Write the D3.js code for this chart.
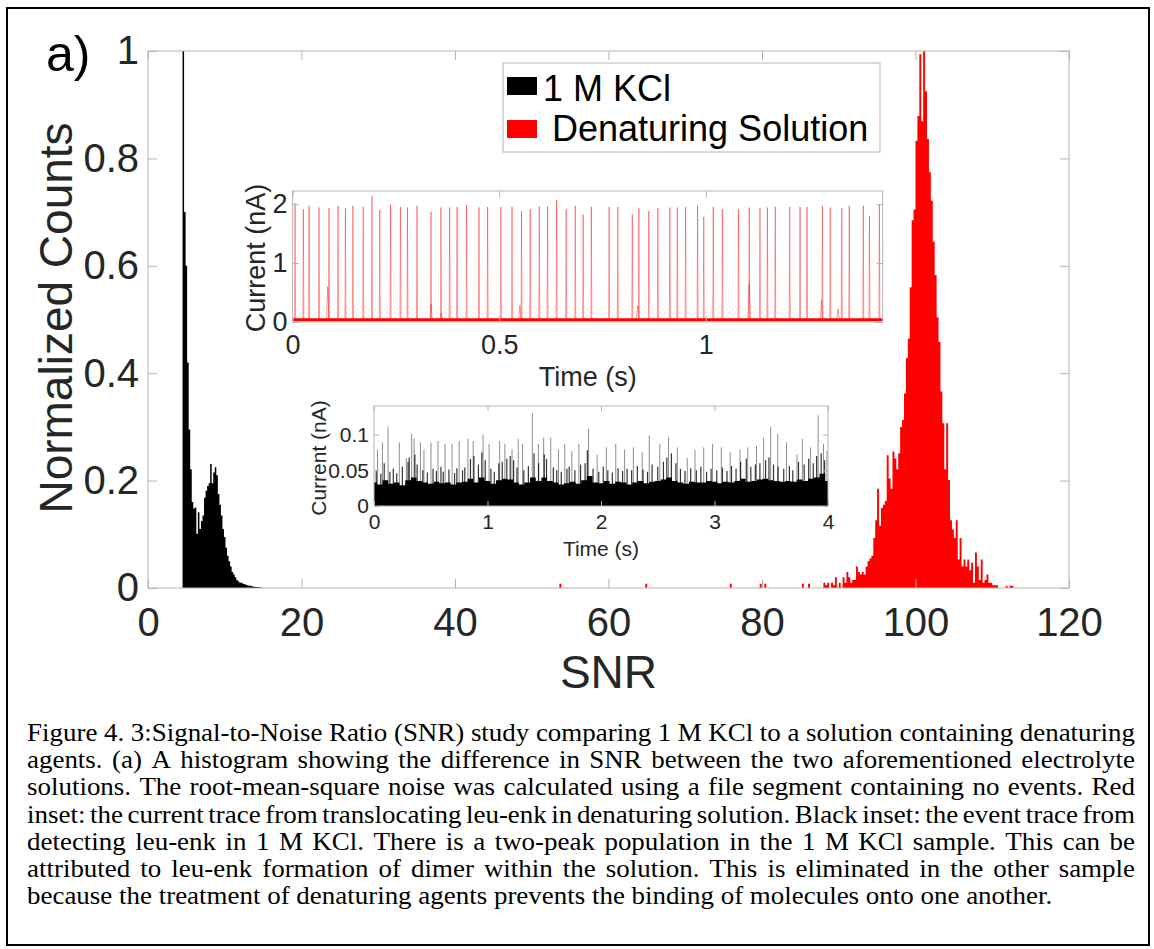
<!DOCTYPE html>
<html><head><meta charset="utf-8">
<script src="https://cdn.jsdelivr.net/npm/d3@7"></script>
<style>body{margin:0;background:#fff}svg{display:block}</style>
</head><body>
<svg id="c" width="1154" height="949"></svg>
<script>
// ---------------- DATA ----------------
const snrTicks = [0, 20, 40, 60, 80, 100, 120];
const countTicks = [0, 0.2, 0.4, 0.6, 0.8, 1];
const countTickLabels = ["0", "0.2", "0.4", "0.6", "0.8", "1"];

// 1 M KCl histogram (bins of 0.2 SNR starting at 4.5)
const kclStart = 4.5, kclWidth = 0.2;
const kclCounts = [1.0, 0.70, 0.60, 0.42, 0.295, 0.221, 0.16, 0.148, 0.15, 0.101,
  0.141, 0.11, 0.125, 0.135, 0.168, 0.181, 0.19, 0.195, 0.231, 0.195,
  0.215, 0.225, 0.21, 0.175, 0.155, 0.135, 0.11, 0.095, 0.075, 0.06,
  0.05, 0.04, 0.03, 0.025, 0.02, 0.015, 0.012, 0.01, 0.01, 0.008,
  0.007, 0.006, 0.005, 0.004, 0.004, 0.003, 0.003, 0.002, 0.002, 0.002,
  0.001, 0.001];

// Denaturing solution histogram (bins of 0.25 SNR starting at 88.0)
const denStart = 88.0, denWidth = 0.25;
const denCounts = [0.01, 0.005, 0.01, 0.0, 0.01, 0.005, 0.02, 0.0, 0.01, 0.0,
  0.02, 0.01, 0.03, 0.02, 0.01, 0.015, 0.015, 0.04, 0.03, 0.025,
  0.03, 0.025, 0.04, 0.05, 0.055, 0.06, 0.093, 0.126, 0.185, 0.116,
  0.149, 0.155, 0.162, 0.247, 0.204, 0.185, 0.254, 0.241, 0.221, 0.251,
  0.30, 0.313, 0.362, 0.428, 0.464, 0.56, 0.685, 0.705, 0.833, 0.879,
  0.994, 0.869, 1.0, 0.925, 0.836, 0.774, 0.721, 0.645, 0.583, 0.504,
  0.458, 0.366, 0.307, 0.221, 0.307, 0.201, 0.126, 0.109, 0.093, 0.126,
  0.053, 0.093, 0.04, 0.053, 0.04, 0.053, 0.033, 0.047, 0.01, 0.066,
  0.04, 0.015, 0.053, 0.01, 0.015, 0.025, 0.01, 0.01, 0.005, 0.005,
  0.005, 0, 0, 0, 0, 0.004, 0, 0.004, 0.004];
// isolated low-SNR events of the denaturing solution
const denOutlierSNR = [53.6, 64.8, 75.8, 79.7, 80.3, 85.2, 86.0];
const denOutlierCount = [0.008, 0.008, 0.008, 0.008, 0.008, 0.008, 0.008];

const legendLabels = ["1 M KCl", "Denaturing Solution"];

// Red inset: current trace in denaturing solution
const redTimeTicks = [0, 0.5, 1];
const redTimeTickLabels = ["0", "0.5", "1"];
const redCurTicks = [0, 1, 2];
const redBaseline = 0.04;
const redSpikeTime = [0.006, 0.026, 0.040, 0.064, 0.088, 0.110, 0.128, 0.146, 0.171, 0.192,
  0.211, 0.237, 0.261, 0.278, 0.301, 0.335, 0.359, 0.380, 0.398, 0.421,
  0.451, 0.472, 0.504, 0.531, 0.554, 0.575, 0.597, 0.617, 0.639, 0.662,
  0.684, 0.703, 0.723, 0.766, 0.787, 0.822, 0.838, 0.862, 0.884, 0.913,
  0.931, 0.951, 0.980, 0.995, 1.018, 1.040, 1.079, 1.105, 1.131, 1.149,
  1.168, 1.203, 1.228, 1.245, 1.282, 1.301, 1.329, 1.347, 1.381, 1.396, 1.420];
const redSpikeHeight = [2.01, 1.91, 1.97, 1.94, 1.93, 1.97, 1.93, 1.97, 1.95, 2.13,
  1.90, 1.99, 1.95, 1.94, 1.97, 1.87, 1.94, 1.94, 1.95, 1.98,
  1.94, 1.95, 1.95, 1.95, 1.88, 1.91, 1.96, 1.96, 2.07, 1.91,
  1.97, 1.82, 1.95, 1.95, 1.95, 1.82, 1.93, 1.88, 1.93, 1.94,
  1.94, 1.95, 1.97, 1.78, 1.95, 1.91, 1.91, 1.94, 1.93, 1.94,
  1.95, 1.95, 1.95, 1.95, 1.97, 1.94, 1.93, 1.97, 1.97, 1.80, 1.99];
const redBumpTime = [0.085, 0.335, 0.360, 0.550, 0.835, 1.105, 1.280, 1.320];
const redBumpHeight = [0.60, 0.30, 0.15, 0.28, 0.28, 0.65, 0.38, 0.22];

// Black inset: event trace in 1 M KCl
const blkTimeTicks = [0, 1, 2, 3, 4];
const blkCurTicks = [0, 0.05, 0.1];
const blkCurTickLabels = ["0", "0.05", "0.1"];
const blkNoiseTime = [0.00,0.05,0.10,0.15,0.20,0.25,0.30,0.35,0.40,0.45,0.50,0.55,0.60,0.65,0.70,0.75,0.80,0.85,0.90,0.95,
  1.00,1.05,1.10,1.15,1.20,1.25,1.30,1.35,1.40,1.45,1.50,1.55,1.60,1.65,1.70,1.75,1.80,1.85,1.90,1.95,
  2.00,2.05,2.10,2.15,2.20,2.25,2.30,2.35,2.40,2.45,2.50,2.55,2.60,2.65,2.70,2.75,2.80,2.85,2.90,2.95,
  3.00,3.05,3.10,3.15,3.20,3.25,3.30,3.35,3.40,3.45,3.50,3.55,3.60,3.65,3.70,3.75,3.80,3.85,3.90,3.95,4.00];
const blkNoiseTop = [0.033,0.030,0.036,0.031,0.033,0.029,0.036,0.040,0.035,0.033,0.031,0.034,0.032,0.033,0.030,0.033,0.034,0.038,0.033,0.040,
  0.035,0.031,0.036,0.038,0.037,0.033,0.030,0.033,0.040,0.035,0.040,0.035,0.033,0.030,0.032,0.034,0.031,0.036,0.042,0.033,
  0.032,0.035,0.031,0.034,0.033,0.030,0.033,0.035,0.032,0.034,0.035,0.037,0.040,0.035,0.033,0.031,0.034,0.033,0.033,0.035,
  0.034,0.032,0.034,0.033,0.035,0.038,0.034,0.035,0.037,0.038,0.036,0.035,0.034,0.035,0.034,0.037,0.035,0.038,0.040,0.045,0.035];
const blkSpikeTime = [0.031,0.074,0.124,0.223,0.285,0.332,0.353,0.409,0.440,0.502,0.564,0.626,0.688,0.750,0.828,0.874,0.961,1.014,1.107,1.153,
  1.216,1.271,1.309,1.395,1.448,1.495,1.557,1.625,1.681,1.743,1.805,1.891,1.966,2.047,2.130,2.208,2.285,2.363,2.425,2.518,
  2.595,2.673,2.760,2.828,2.905,2.983,3.060,3.138,3.225,3.293,3.370,3.433,3.495,3.557,3.634,3.727,3.774,3.845,3.913,3.960,3.991];
const blkSpikeHeight = [0.079,0.089,0.111,0.089,0.067,0.101,0.094,0.089,0.079,0.089,0.091,0.087,0.087,0.091,0.094,0.091,0.100,0.087,0.091,0.087,
  0.079,0.094,0.087,0.130,0.087,0.096,0.096,0.079,0.087,0.077,0.087,0.108,0.072,0.082,0.087,0.079,0.082,0.075,0.099,0.087,
  0.096,0.082,0.067,0.079,0.082,0.087,0.082,0.075,0.079,0.082,0.084,0.096,0.111,0.101,0.089,0.072,0.094,0.082,0.127,0.087,0.077];
const blkMidTime = [0.02,0.06,0.09,0.14,0.17,0.20,0.25,0.30,0.31,0.36,0.38,0.43,0.47,0.52,0.55,0.59,0.61,0.66,0.71,0.73,
  0.78,0.80,0.85,0.88,0.92,0.95,0.98,1.03,1.06,1.10,1.13,1.17,1.20,1.23,1.26,1.32,1.36,1.41,1.45,1.50,
  1.52,1.58,1.61,1.65,1.70,1.72,1.77,1.82,1.86,1.88,1.93,1.98,2.02,2.06,2.10,2.15,2.19,2.23,2.27,2.32,
  2.37,2.41,2.45,2.50,2.55,2.58,2.62,2.66,2.70,2.74,2.79,2.84,2.88,2.93,2.97,3.02,3.07,3.11,3.15,3.19,
  3.23,3.28,3.32,3.36,3.40,3.45,3.48,3.52,3.56,3.61,3.66,3.69,3.74,3.79,3.83,3.87,3.90,3.94,3.97];
const blkMidHeight = [0.050,0.045,0.060,0.048,0.052,0.046,0.055,0.062,0.068,0.072,0.058,0.050,0.047,0.052,0.049,0.055,0.048,0.051,0.046,0.053,
  0.050,0.054,0.066,0.070,0.058,0.075,0.064,0.052,0.048,0.060,0.062,0.066,0.070,0.064,0.054,0.050,0.056,0.074,0.060,0.072,
  0.066,0.054,0.050,0.048,0.052,0.055,0.050,0.058,0.060,0.078,0.052,0.048,0.055,0.050,0.047,0.053,0.049,0.052,0.050,0.056,
  0.051,0.048,0.058,0.055,0.062,0.068,0.074,0.060,0.052,0.049,0.053,0.050,0.055,0.048,0.052,0.050,0.054,0.049,0.056,0.052,
  0.062,0.066,0.055,0.058,0.060,0.064,0.068,0.058,0.055,0.052,0.056,0.050,0.062,0.058,0.066,0.060,0.070,0.074,0.064];

const captionLines = [
  "Figure 4. 3:Signal-to-Noise Ratio (SNR) study comparing 1 M KCl to a solution containing denaturing",
  "agents. (a) A histogram showing the difference in SNR between the two aforementioned electrolyte",
  "solutions. The root-mean-square noise was calculated using a file segment containing no events. Red",
  "inset: the current trace from translocating leu-enk in denaturing solution. Black inset: the event trace from",
  "detecting leu-enk in 1 M KCl. There is a two-peak population in the 1 M KCl sample. This can be",
  "attributed to leu-enk formation of dimer within the solution. This is eliminated in the other sample",
  "because the treatment of denaturing agents prevents the binding of molecules onto one another."
];

// ---------------- DRAWING ----------------
const SANS = "'Liberation Sans', Arial, sans-serif";
const SERIF = "'Liberation Serif', 'Times New Roman', serif";
const TXT = "#262626";
const AX = "#b4b4b4";
const svg = d3.select("#c");

svg.append("rect").attr("x", 7).attr("y", 8).attr("width", 1142).attr("height", 937)
  .attr("fill", "#fff").attr("stroke", "#000").attr("stroke-width", 2);

function frame(g, xs, ys, o) {
  const [x0, x1] = xs.range(), [y0, y1] = ys.range();
  const mk = (axis, tr, labels) => {
    const a = g.append("g").attr("transform", tr).call(axis);
    a.select(".domain").remove();
    a.selectAll("line").attr("stroke", AX);
    a.selectAll("text").attr("fill", TXT).style("font-family", SANS).style("font-size", o.fs + "px");
    if (!labels) a.selectAll("text").remove();
    return a;
  };
  mk(d3.axisBottom(xs).tickValues(o.xt).tickFormat((d, i) => o.xl[i]).tickSize(-o.tl).tickPadding(o.xp), `translate(0,${y0})`, true);
  mk(d3.axisTop(xs).tickValues(o.xt).tickSize(-o.tl), `translate(0,${y1})`, false);
  mk(d3.axisLeft(ys).tickValues(o.yt).tickFormat((d, i) => o.yl[i]).tickSize(-o.tl).tickPadding(o.yp), `translate(${x0},0)`, true);
  mk(d3.axisRight(ys).tickValues(o.yt).tickSize(-o.tl), `translate(${x1},0)`, false);
  g.append("rect").attr("x", x0).attr("y", y1).attr("width", x1 - x0).attr("height", y0 - y1)
    .attr("fill", "none").attr("stroke", AX).attr("stroke-width", 1);
}

// Main axes
const x = d3.scaleLinear().domain([0, 120]).range([148, 1069]);
const y = d3.scaleLinear().domain([0, 1]).range([588, 51]);
const main = svg.append("g");

function histPath(start, w, counts) {
  const pts = counts.map((v, i) => [start + i * w, v]);
  pts.push([start + counts.length * w, 0]);
  return d3.area().curve(d3.curveStepAfter).x(d => x(d[0])).y0(y(0)).y1(d => y(d[1]))(pts);
}
main.append("path").attr("d", histPath(kclStart, kclWidth, kclCounts)).attr("fill", "#000");
main.append("path").attr("d", histPath(denStart, denWidth, denCounts)).attr("fill", "#ff0000");
main.selectAll("rect.out").data(denOutlierSNR).join("rect").attr("class", "out")
  .attr("x", d => x(d)).attr("width", d => x(d + denWidth) - x(d))
  .attr("y", (d, i) => y(denOutlierCount[i])).attr("height", (d, i) => y(0) - y(denOutlierCount[i]))
  .attr("fill", "#ff0000");

frame(main, x, y, { xt: snrTicks, xl: snrTicks.map(String), yt: countTicks, yl: countTickLabels,
  tl: 9, fs: 40, xp: 20, yp: 9 });

main.append("text").attr("x", (x(0) + x(120)) / 2).attr("y", 688).attr("text-anchor", "middle")
  .attr("fill", TXT).style("font-family", SANS).style("font-size", "46px").text("SNR");
main.append("text").attr("transform", `translate(72,318) rotate(-90)`).attr("text-anchor", "middle")
  .attr("fill", TXT).style("font-family", SANS).style("font-size", "46px").text("Normalized Counts");
svg.append("text").attr("x", 46).attr("y", 71).attr("fill", "#000")
  .style("font-family", SANS).style("font-size", "50px").text("a)");

// Legend
const lg = svg.append("g");
lg.append("rect").attr("x", 503).attr("y", 63).attr("width", 377).attr("height", 89)
  .attr("fill", "#fff").attr("stroke", AX);
const lgColors = ["#000", "#ff0000"];
const lgSwY = [77, 120], lgTxtX = [543, 552], lgTxtY = [101, 141];
legendLabels.forEach((lab, i) => {
  lg.append("rect").attr("x", 507).attr("y", lgSwY[i]).attr("width", 30).attr("height", 18).attr("fill", lgColors[i]);
  lg.append("text").attr("x", lgTxtX[i]).attr("y", lgTxtY[i]).attr("fill", "#000")
    .style("font-family", SANS).style("font-size", "36px").text(lab);
});

// Red inset
const xr = d3.scaleLinear().domain([0, 1.428]).range([292.6, 882.7]);
const yr = d3.scaleLinear().domain([0, 2.22]).range([322, 191]);
const ri = svg.append("g");
ri.append("rect").attr("x", 292.6).attr("y", 191).attr("width", 882.7 - 292.6).attr("height", 131).attr("fill", "#fff");
const redPts = [];
redSpikeTime.forEach((t, i) => redPts.push({ t, h: redSpikeHeight[i], w: 0.0012 }));
redBumpTime.forEach((t, i) => redPts.push({ t, h: redBumpHeight[i], w: 0.003 }));
redPts.sort((a, b) => a.t - b.t);
const trace = [[0, redBaseline]];
redPts.forEach(p => { trace.push([p.t - p.w, redBaseline], [p.t, p.h], [p.t + p.w, redBaseline]); });
trace.push([1.428, redBaseline]);
ri.append("path").attr("d", d3.line().x(d => xr(d[0])).y(d => yr(d[1]))(trace))
  .attr("fill", "none").attr("stroke", "#ff0000").attr("stroke-width", 1).attr("stroke-opacity", 0.4);
ri.append("line").attr("x1", xr(0)).attr("x2", xr(1.428)).attr("y1", yr(redBaseline)).attr("y2", yr(redBaseline))
  .attr("stroke", "#ff0000").attr("stroke-width", 3);
frame(ri, xr, yr, { xt: redTimeTicks, xl: redTimeTickLabels, yt: redCurTicks, yl: redCurTicks.map(String),
  tl: 6, fs: 27, xp: 13, yp: 5 });
ri.append("text").attr("x", (292.6 + 882.7) / 2).attr("y", 386).attr("text-anchor", "middle")
  .attr("fill", TXT).style("font-family", SANS).style("font-size", "27px").text("Time (s)");
ri.append("text").attr("transform", `translate(265,258) rotate(-90)`).attr("text-anchor", "middle")
  .attr("fill", TXT).style("font-family", SANS).style("font-size", "27px").text("Current (nA)");

// Black inset
const xb = d3.scaleLinear().domain([0, 4]).range([374, 828]);
const yb = d3.scaleLinear().domain([0, 0.14]).range([506, 406]);
const bi = svg.append("g");
bi.append("rect").attr("x", 374).attr("y", 406).attr("width", 454).attr("height", 100).attr("fill", "#fff");
bi.selectAll("line.sp").data(blkSpikeTime).join("line").attr("class", "sp")
  .attr("x1", d => xb(d)).attr("x2", d => xb(d)).attr("y1", yb(0)).attr("y2", (d, i) => yb(blkSpikeHeight[i]))
  .attr("stroke", "#000").attr("stroke-width", 1).attr("stroke-opacity", 0.45);
bi.selectAll("line.md").data(blkMidTime).join("line").attr("class", "md")
  .attr("x1", d => xb(d)).attr("x2", d => xb(d)).attr("y1", yb(0)).attr("y2", (d, i) => yb(blkMidHeight[i]))
  .attr("stroke", "#000").attr("stroke-width", 1.2).attr("stroke-opacity", 0.8);
bi.append("path").attr("d", d3.area().curve(d3.curveStep).x(d => xb(d)).y0(yb(0)).y1((d, i) => yb(blkNoiseTop[i]))(blkNoiseTime))
  .attr("fill", "#000");
frame(bi, xb, yb, { xt: blkTimeTicks, xl: blkTimeTicks.map(String), yt: blkCurTicks, yl: blkCurTickLabels,
  tl: 5, fs: 21, xp: 8, yp: 5 });
bi.append("text").attr("x", 601).attr("y", 556).attr("text-anchor", "middle")
  .attr("fill", TXT).style("font-family", SANS).style("font-size", "21px").text("Time (s)");
bi.append("text").attr("transform", `translate(326,458) rotate(-90)`).attr("text-anchor", "middle")
  .attr("fill", TXT).style("font-family", SANS).style("font-size", "21px").text("Current (nA)");

// Caption (justified, slightly widened glyphs as in the reference)
const capL = 27, capR = 1135, capY0 = 741, capDY = 27.2, capSX = 1.1;
const cap = svg.append("g").attr("transform", `translate(${capL},0) scale(${capSX},1)`)
  .style("font-family", SERIF).style("font-size", "24.5px").attr("fill", "#000");
const capW = (capR - capL) / capSX;
const probe1 = cap.append("text").text("a a"), probe2 = cap.append("text").text("aa");
const spaceW = probe1.node().getComputedTextLength() - probe2.node().getComputedTextLength();
probe1.remove(); probe2.remove();
captionLines.forEach((line, li) => {
  const words = line.split(" ");
  const yy = capY0 + li * capDY;
  const nodes = words.map(w => cap.append("text").attr("y", yy).text(w));
  const widths = nodes.map(n => n.node().getComputedTextLength());
  const total = d3.sum(widths);
  const last = li === captionLines.length - 1;
  const gap = last ? spaceW : (capW - total) / (words.length - 1);
  let cx = 0;
  nodes.forEach((n, i) => { n.attr("x", cx); cx += widths[i] + gap; });
});
</script></body></html>
